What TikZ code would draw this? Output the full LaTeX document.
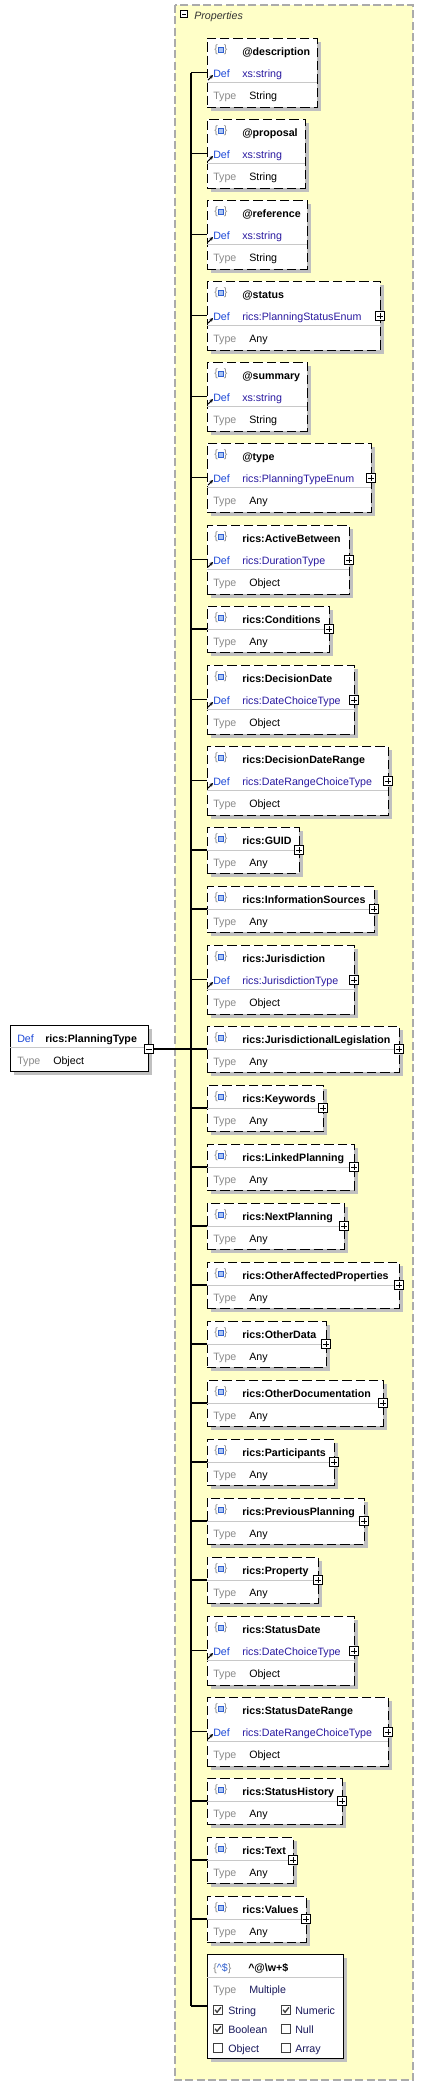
\documentclass[tikz,border=0pt]{standalone}
\usepackage{fontspec}
\setmainfont{Liberation Sans}
\usepackage{xcolor}
\usepackage{tikz}
\usetikzlibrary{arrows.meta,shadows}
\definecolor{propbg}{HTML}{FFFFC8}
\definecolor{framegray}{HTML}{ABABAB}
\definecolor{shade}{HTML}{C0C0C0}
\definecolor{sepgray}{HTML}{C8C8C8}
\definecolor{defblue}{HTML}{1C48D8}
\definecolor{defval}{HTML}{2A1AA0}
\definecolor{keygray}{HTML}{8A8A8A}
\definecolor{navyx}{HTML}{1A1A5C}
\definecolor{icoblue}{HTML}{2F5FD0}
\definecolor{icofill}{HTML}{A9C4F5}
\tikzset{
  txt/.style={font=\fontsize{8}{9.6}\selectfont,inner sep=0pt,anchor=base west},
  bold/.style={txt,font=\fontsize{8}{9.6}\selectfont\bfseries},
  key/.style={txt,keygray},
  optbox/.style={draw,line width=0.75pt,dash pattern=on 7pt off 3pt,fill=white,inner sep=0pt,outer sep=0pt,anchor=north west,
    drop shadow={shadow xshift=3pt,shadow yshift=-3pt,fill=shade,opacity=1}},
  reqbox/.style={optbox,solid},
  sepline/.style={sepgray,line width=0.75pt},
  conn/.style={line width=0.8pt},
  refarrow/.style={-{Stealth[length=2.6pt,width=2.6pt]},line width=0.8pt},
  ico/.style={txt,keygray,anchor=center},
  icosq/.style={draw=icoblue,line width=0.8pt,fill=icofill,minimum width=4.2pt,minimum height=3.8pt,inner sep=0pt},
  plus/.style={draw,line width=0.6pt,fill=white,minimum size=7pt,inner sep=0pt,
    path picture={\draw[line width=0.6pt] ([xshift=1.3pt]path picture bounding box.west)--([xshift=-1.3pt]path picture bounding box.east)
      ([yshift=-1.3pt]path picture bounding box.north)--([yshift=1.3pt]path picture bounding box.south);}},
  minus/.style={draw,line width=0.6pt,fill=white,minimum size=7pt,inner sep=0pt,
    path picture={\draw[line width=0.6pt] ([xshift=1.3pt]path picture bounding box.west)--([xshift=-1.3pt]path picture bounding box.east);}},
  chk/.style={draw=black!75,line width=0.6pt,fill=white,minimum size=7.2pt,inner sep=0pt},
  checked/.style={chk,path picture={\draw[line width=1pt] ([shift={(-2.2pt,0.2pt)}]path picture bounding box.center)
      -- ([shift={(-0.7pt,-1.7pt)}]path picture bounding box.center) -- ([shift={(2.2pt,2pt)}]path picture bounding box.center);}}
}
\begin{document}
\begin{tikzpicture}[x=0.75pt,y=-0.75pt]
\useasboundingbox (0,0) rectangle (424,2086);
\draw[framegray,fill=propbg,line width=0.8pt,dash pattern=on 6pt off 2.5pt] (175,5) rectangle (413,2080);
\node[minus,minimum size=5.5pt] (pm) at (184,14) {};
\node[txt,font=\fontsize{8}{9.6}\selectfont\itshape,black!80] (pt) at (194,19) {Properties};
\coordinate (tk) at (191,0);
% root
\node[reqbox,minimum width=103.5pt,minimum height=34.5pt] (root) at (10,1025) {};
\node[txt,defblue] (rd) at (17,1042) {Def};
\node[bold] (rn) at (45,1042) {rics:PlanningType};
\draw[sepline] (10,1047) -- (148,1047);
\node[key] (rk) at (17,1064) {Type};
\node[txt] (ry) at (53,1064) {Object};
\node[minus] (rm) at (149,1049) {};
% with Def row
\foreach \i/\tp/\rt/\nm/\df/\ty/\pl in {1/38/317/@description/xs:string/String/0,
    2/119/305/@proposal/xs:string/String/0,3/200/307/@reference/xs:string/String/0,
    4/281/380/@status/rics:PlanningStatusEnum/Any/1,5/362/307/@summary/xs:string/String/0,
    6/443/371/@type/rics:PlanningTypeEnum/Any/1,7/525/349/rics:ActiveBetween/rics:DurationType/Object/1,
    9/665/354/rics:DecisionDate/rics:DateChoiceType/Object/1,
    10/746/388/rics:DecisionDateRange/rics:DateRangeChoiceType/Object/1,
    13/945/354/rics:Jurisdiction/rics:JurisdictionType/Object/1,
    24/1616/354/rics:StatusDate/rics:DateChoiceType/Object/1,
    25/1697/388/rics:StatusDateRange/rics:DateRangeChoiceType/Object/1}{
  \pgfmathsetmacro\bw{(\rt-207)*0.75}
  \node[optbox,minimum width=\bw pt,minimum height=51.75pt] (b\i) at (207,\tp) {};
  \node[ico] (g\i) at (221,\tp+12) {\{\hspace{4.5pt}\}};
  \node[icosq] (q\i) at (221,\tp+12) {};
  \node[bold] (n\i) at (242,\tp+17) {\nm};
  \node[txt,defblue] (d\i) at (213,\tp+39) {Def};
  \node[txt,defval] (v\i) at (242,\tp+39) {\df};
  \draw[sepline] (207,\tp+44) -- (\rt,\tp+44);
  \node[key] (k\i) at (213,\tp+61) {Type};
  \node[txt] (y\i) at (249,\tp+61) {\ty};
  \draw[refarrow] (208,\tp+42) -- (213,\tp+37);
  \ifnum\pl=1 \node[plus] (p\i) at (\rt,\tp+35) {};\fi
}
% without Def row
\foreach \i/\tp/\rt/\nm in {8/606/329/rics:Conditions,11/827/299/rics:GUID,
    12/886/374/rics:InformationSources,14/1026/399/rics:JurisdictionalLegislation,
    15/1085/323/rics:Keywords,16/1144/354/rics:LinkedPlanning,17/1203/344/rics:NextPlanning,
    18/1262/399/rics:OtherAffectedProperties,19/1321/326/rics:OtherData,
    20/1380/383/rics:OtherDocumentation,21/1439/334/rics:Participants,
    22/1498/364/rics:PreviousPlanning,23/1557/318/rics:Property,26/1778/342/rics:StatusHistory,
    27/1837/293/rics:Text,28/1896/306/rics:Values}{
  \pgfmathsetmacro\bw{(\rt-207)*0.75}
  \node[optbox,minimum width=\bw pt,minimum height=34.5pt] (b\i) at (207,\tp) {};
  \node[ico] (g\i) at (221,\tp+12) {\{\hspace{4.5pt}\}};
  \node[icosq] (q\i) at (221,\tp+12) {};
  \node[bold] (n\i) at (242,\tp+17) {\nm};
  \draw[sepline] (207,\tp+23) -- (\rt,\tp+23);
  \node[key] (k\i) at (213,\tp+39) {Type};
  \node[txt] (y\i) at (249,\tp+39) {Any};
  \node[plus] (p\i) at (\rt,\tp+23) {};
}
% pattern
\node[reqbox,minimum width=102pt,minimum height=78pt] (b29) at (207,1954) {};
\node[key] (g29) at (213,1971) {\{\textcolor{icoblue}{\textasciicircum\$}\}};
\node[bold] (n29) at (248,1971) {\textasciicircum @\textbackslash w+\$};
\draw[sepline] (207,1977) -- (343,1977);
\node[key] (k29) at (213,1993) {Type};
\node[txt,navyx] (y29) at (249,1993) {Multiple};
\node[checked] (c1) at (218,2010) {};
\node[txt,navyx] (l1) at (228,2014) {String};
\node[checked] (c2) at (286,2010) {};
\node[txt,navyx] (l2) at (295,2014) {Numeric};
\node[checked] (c3) at (218,2029) {};
\node[txt,navyx] (l3) at (228,2033) {Boolean};
\node[chk] (c4) at (286,2029) {};
\node[txt,navyx] (l4) at (295,2033) {Null};
\node[chk] (c5) at (218,2048) {};
\node[txt,navyx] (l5) at (228,2052) {Object};
\node[chk] (c6) at (286,2048) {};
\node[txt,navyx] (l6) at (295,2052) {Array};
% connectors
\draw[conn] (b1.west -| tk) -- (b29.west -| tk);
\foreach \i in {1,...,29} \draw[conn] (b\i.west -| tk) -- (b\i.west);
\draw[conn] (rm.east) -- (b14.west);
\end{tikzpicture}
\end{document}
